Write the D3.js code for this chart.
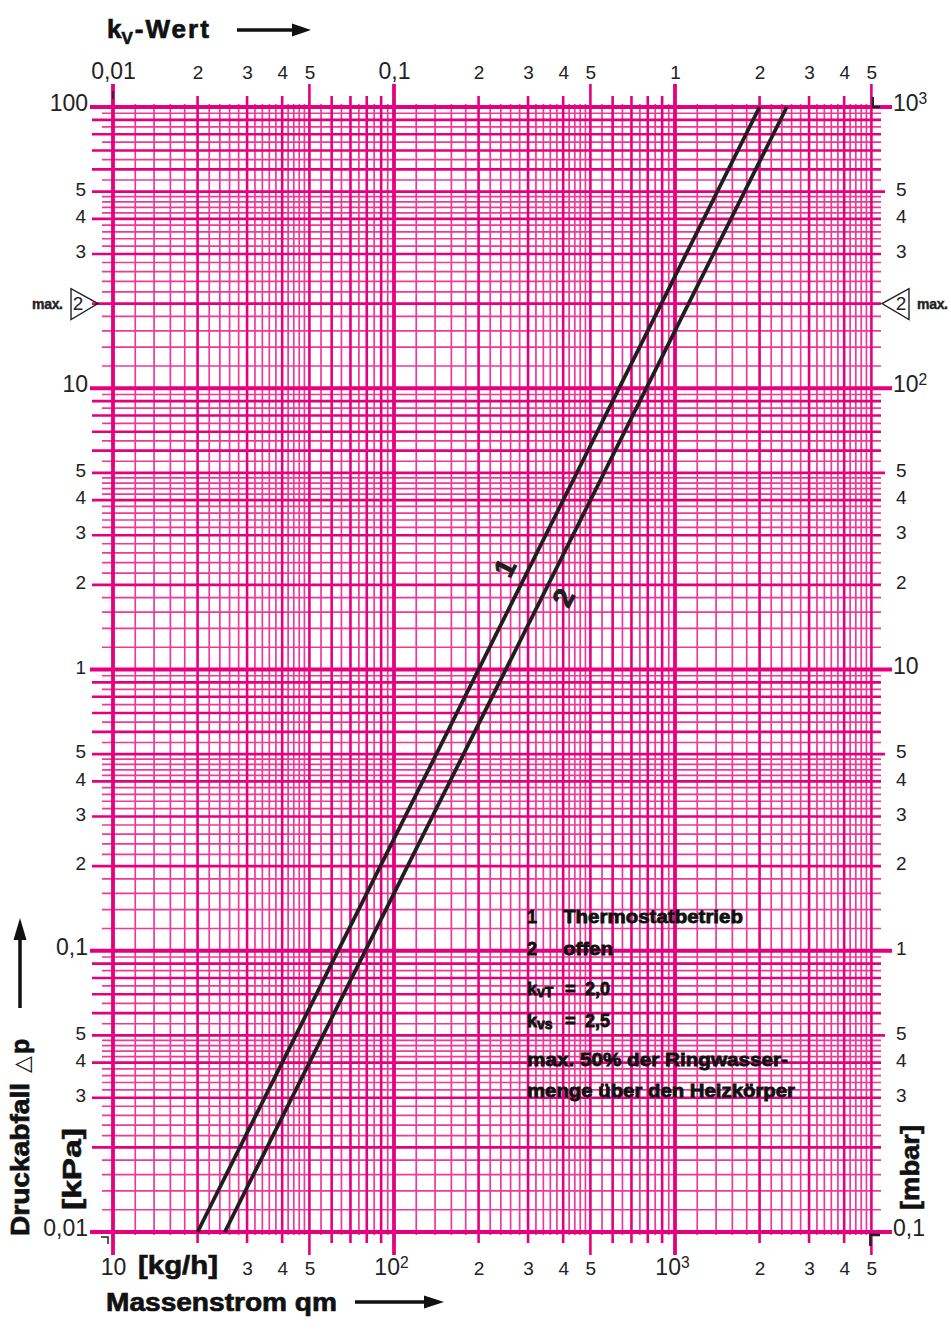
<!DOCTYPE html>
<html><head><meta charset="utf-8">
<script src="https://cdn.jsdelivr.net/npm/d3@7"></script>
<style>body{margin:0;background:#fff}svg{display:block}</style>
</head><body>
<svg id="c" width="951" height="1335"></svg>
<script>
// ---------- data ----------
const qmDomain = [10, 5000];          // Massenstrom qm [kg/h]
const kvDomain = [0.01, 5];           // kv-Wert (top scale)
const kpaDomain = [0.01, 100];        // Druckabfall [kPa]
const mbarDomain = [0.1, 1000];       // Druckabfall [mbar]

const kvTickValues = [0.01,0.02,0.03,0.04,0.05,0.1,0.2,0.3,0.4,0.5,1,2,3,4,5];
const kvTickLabels = ["0,01","2","3","4","5","0,1","2","3","4","5","1","2","3","4","5"];
const qmTickValues = [10,30,40,50,100,200,300,400,500,1000,2000,3000,4000,5000];
const qmTickLabels = ["10","3","4","5","10²","2","3","4","5","10³","2","3","4","5"];
const kpaTickValues = [100,50,40,30,10,5,4,3,2,1,0.5,0.4,0.3,0.2,0.1,0.05,0.04,0.03,0.01];
const kpaTickLabels = ["100","5","4","3","10","5","4","3","2","1","5","4","3","2","0,1","5","4","3","0,01"];
const mbarTickValues = [1000,500,400,300,100,50,40,30,20,10,5,4,3,2,1,0.5,0.4,0.3,0.1];
const mbarTickLabels = ["10³","5","4","3","10²","5","4","3","2","10","5","4","3","2","1","5","4","3","0,1"];
const maxMarkKpa = 20;

// curve 1: Thermostatbetrieb (kvT = 2,0); curve 2: offen (kvs = 2,5)
const curve1Qm = [20, 2000];
const curve1Dp = [0.01, 100];
const curve2Qm = [25, 2500];
const curve2Dp = [0.01, 100];
const curveLabelQm = [248, 400];
const curveLabelDp = [2.3, 1.8];
const curveLabelText = ["1", "2"];

const legendNums = ["1", "2"];
const legendTexts = ["Thermostatbetrieb", "offen"];
const kvTValue = "2,0";
const kvsValue = "2,5";
const noteLines = ["max. 50% der Ringwasser-", "menge über den Heizkörper"];

// ---------- setup ----------
const MAG = "#e5007d", MAG_LIGHT = "#ec3a96";
const NUM_FONT = "'Liberation Sans Narrow','Liberation Sans',Arial,sans-serif";
const BOLD_FONT = "'Liberation Sans',Arial,sans-serif";
const svg = d3.select("#c");

const x = d3.scaleLog().domain(qmDomain).range([113, 871.4]);
const xKv = d3.scaleLog().domain(kvDomain).range(x.range());
const y = d3.scaleLog().domain(kpaDomain).range([1232, 107]);
const yMbar = d3.scaleLog().domain(mbarDomain).range(y.range());

const mantissas = [1,1.2,1.4,1.6,1.8,2,2.2,2.4,2.6,2.8,3,3.2,3.4,3.6,3.8,4,4.2,4.4,4.6,4.8,5,5.5,6,6.5,7,7.5,8,8.5,9,9.5];
function gridVals(domain){
  const out=[];
  for(let e=Math.floor(Math.log10(domain[0])); e<=Math.ceil(Math.log10(domain[1])); e++){
    mantissas.forEach(m=>{
      const v = +(m*Math.pow(10,e)).toPrecision(6);
      if(v>=domain[0]*0.9999 && v<=domain[1]*1.0001) out.push({v, m, kind: m===1?"dec":(Number.isInteger(m)?"int":"min")});
    });
  }
  return out;
}
const gx = gridVals(qmDomain), gy = gridVals(kpaDomain);
const style = {min:{w:1.7,c:MAG_LIGHT}, int:{w:2.6,c:MAG}, dec:{w:3.8,c:MAG}};
const yTop = y(100), yBot = y(0.01), xL = x(10), xR = x(5000);

const grid = svg.append("g");
["min","int","dec"].forEach(kind=>{
  grid.selectAll(null).data(gy.filter(d=>d.kind===kind)).enter().append("line")
    .attr("x1", d=> d.kind==="dec"?90:(d.kind==="int"?92:102))
    .attr("x2", d=> d.kind==="dec"?892:(d.m===5?885:881))
    .attr("y1", d=>y(d.v)).attr("y2", d=>y(d.v))
    .attr("stroke", style[kind].c).attr("stroke-width", style[kind].w);
  grid.selectAll(null).data(gx.filter(d=>d.kind===kind)).enter().append("line")
    .attr("x1", d=>x(d.v)).attr("x2", d=>x(d.v))
    .attr("y1", d=> (d.kind==="dec"||d.m===5)?84:(d.kind==="int"?96:104))
    .attr("y2", d=> (d.kind==="dec"||d.m===5)?1255:(d.kind==="int"?1243:1235))
    .attr("stroke", style[kind].c).attr("stroke-width", style[kind].w);
});

// registration marks
const reg = svg.append("g").attr("stroke","#222").attr("fill","none");
reg.append("path").attr("d",`M${xL},91V99`).attr("stroke-width",1.5);
reg.append("path").attr("d",`M${xR+1.5},97V${yTop}H880`).attr("stroke-width",2.2);
reg.append("path").attr("d",`M101,${yBot+5}H108V${yBot+12}`).attr("stroke-width",1.5);
reg.append("path").attr("d",`M${xR-1},${yBot+14}V${yBot+3}H880`).attr("stroke-width",2.6);

// ---------- curves ----------
const line = d3.line().x(d=>x(d[0])).y(d=>y(d[1]));
[[curve1Qm,curve1Dp],[curve2Qm,curve2Dp]].forEach(([q,p])=>{
  svg.append("path").datum(q.map((v,i)=>[v,p[i]])).attr("d",line)
    .attr("fill","none").attr("stroke","#1f1f1f").attr("stroke-width",3.8);
});
curveLabelText.forEach((t,i)=>{
  svg.append("text").attr("transform",`translate(${x(curveLabelQm[i])},${y(curveLabelDp[i])}) rotate(-63)`)
    .attr("text-anchor","middle").attr("dy","0.35em")
    .attr("font-family",BOLD_FONT).attr("font-weight","bold").attr("font-size",28)
    .attr("stroke","#1f1f1f").attr("stroke-width",1)
    .attr("fill","#1f1f1f").text(t);
});

// ---------- axes labels ----------
function setLabel(sel, labels, bigSize, smallSize){
  sel.each(function(d,i){
    const t = d3.select(this), s = labels[i];
    t.text(null);
    const big = s.length>1;
    const m = s.match(/^(10)([²³])$/);
    if(m){
      t.append("tspan").text(m[1]).attr("font-size",bigSize);
      t.append("tspan").text(m[2]==="²"?"2":"3").attr("font-size",bigSize*0.68).attr("dy",-bigSize*0.32);
    } else {
      t.append("tspan").text(s).attr("font-size", big?bigSize:smallSize);
    }
  });
}
function styleAxis(g){
  g.select(".domain").remove();
  g.selectAll(".tick line").remove();
  g.attr("font-family",NUM_FONT).attr("fill","#222");
  g.selectAll("text").attr("fill","#222");
}
const axTop = svg.append("g").attr("transform","translate(0,79)")
  .call(d3.axisTop(xKv).tickValues(kvTickValues).tickSize(0).tickPadding(0));
styleAxis(axTop);
axTop.selectAll("text").attr("y",0).attr("dy",0);
setLabel(axTop.selectAll("text"), kvTickLabels, 23, 19);

const axBot = svg.append("g").attr("transform","translate(0,1275)")
  .call(d3.axisBottom(x).tickValues(qmTickValues).tickSize(0).tickPadding(0));
styleAxis(axBot);
axBot.selectAll("text").attr("y",0).attr("dy",0).attr("dx",(d,i)=>qmTickLabels[i].length===3?-3:0);
setLabel(axBot.selectAll("text"), qmTickLabels, 23, 19);

const axLeft = svg.append("g").attr("transform","translate(88,0)")
  .call(d3.axisLeft(y).tickValues(kpaTickValues).tickSize(0).tickPadding(0));
styleAxis(axLeft);
axLeft.selectAll("text").attr("x",(d,i)=>kpaTickLabels[i].length>1?0:-2).attr("dy","0.36em");
setLabel(axLeft.selectAll("text"), kpaTickLabels, 23, 19);

const axRight = svg.append("g").attr("transform","translate(893,0)")
  .call(d3.axisRight(yMbar).tickValues(mbarTickValues).tickSize(0).tickPadding(0));
styleAxis(axRight);
axRight.selectAll("text").attr("x",(d,i)=>mbarTickLabels[i].length>1?0:3).attr("dy","0.36em");
setLabel(axRight.selectAll("text"), mbarTickLabels, 23, 19);

// max. 2 markers
const ym = y(maxMarkKpa);
const mk = svg.append("g").attr("fill","#222");
mk.append("path").attr("d",`M71,${ym-15}V${ym+16}L98,${ym}Z`).attr("fill","none").attr("stroke","#222").attr("stroke-width",1.4);
mk.append("text").attr("x",78).attr("y",ym).attr("dy","0.36em").attr("text-anchor","middle").attr("font-family",NUM_FONT).attr("font-size",19).text("2");
mk.append("text").attr("x",32).attr("y",ym+5).attr("font-family",BOLD_FONT).attr("font-weight","bold").attr("font-size",14).attr("stroke","#222").attr("stroke-width",0.4).attr("textLength",31).text("max.");
mk.append("path").attr("d",`M909,${ym-15}V${ym+16}L882,${ym}Z`).attr("fill","none").attr("stroke","#222").attr("stroke-width",1.4);
mk.append("text").attr("x",901).attr("y",ym).attr("dy","0.36em").attr("text-anchor","middle").attr("font-family",NUM_FONT).attr("font-size",19).text("2");
mk.append("text").attr("x",917).attr("y",ym+5).attr("font-family",BOLD_FONT).attr("font-weight","bold").attr("font-size",14).attr("stroke","#222").attr("stroke-width",0.4).attr("textLength",31).text("max.");

// ---------- titles ----------
function arrow(g, x1, y1, x2, y2, head){
  const ang = Math.atan2(y2-y1, x2-x1);
  const bx = x2 - head*Math.cos(ang), by = y2 - head*Math.sin(ang);
  g.append("line").attr("x1",x1).attr("y1",y1).attr("x2",bx).attr("y2",by).attr("stroke","#111").attr("stroke-width",3.5);
  const w = 6.5, nx = -Math.sin(ang)*w, ny = Math.cos(ang)*w;
  g.append("path").attr("d",`M${x2},${y2}L${bx+nx},${by+ny}L${bx-nx},${by-ny}Z`).attr("fill","#111");
}
const ttl = svg.append("g").attr("fill","#111").attr("font-family",BOLD_FONT).attr("font-weight","bold");
const kvT = ttl.append("text").attr("x",107).attr("y",38).attr("font-size",26).attr("stroke","#111").attr("stroke-width",0.7);
kvT.append("tspan").text("k");
kvT.append("tspan").text("V").attr("font-size",17).attr("dy",6);
kvT.append("tspan").text("-Wert").attr("dy",-6).attr("dx",2).attr("textLength",74);
arrow(ttl, 237, 30, 311, 30, 19);
ttl.append("text").attr("x",106).attr("y",1311).attr("font-size",25).attr("stroke","#111").attr("stroke-width",0.7)
  .attr("textLength",231).attr("lengthAdjust","spacingAndGlyphs").text("Massenstrom qm");
arrow(ttl, 355, 1302, 444, 1302, 20);
ttl.append("text").attr("x",138).attr("y",1274).attr("font-size",25).attr("stroke","#111").attr("stroke-width",0.6)
  .attr("textLength",80).attr("lengthAdjust","spacingAndGlyphs").text("[kg/h]");
const dT = ttl.append("text").attr("transform","translate(29,1236) rotate(-90)").attr("font-size",25).attr("stroke","#111").attr("stroke-width",0.7);
dT.append("tspan").text("Druckabfall").attr("textLength",153).attr("lengthAdjust","spacingAndGlyphs");
dT.append("tspan").text("△").attr("dx",10).attr("font-weight","normal").attr("stroke","none").attr("font-family","'DejaVu Sans',sans-serif").attr("font-size",22);
dT.append("tspan").text("p").attr("dx",2);
arrow(ttl, 20, 1008, 20, 918, 22);
ttl.append("text").attr("transform","translate(81,1210) rotate(-90)").attr("font-size",25).attr("stroke","#111").attr("stroke-width",0.6)
  .attr("textLength",82).attr("lengthAdjust","spacingAndGlyphs").text("[kPa]");
ttl.append("text").attr("transform","translate(919,1210) rotate(-90)").attr("font-size",25).attr("stroke","#111").attr("stroke-width",0.6)
  .attr("textLength",85).attr("lengthAdjust","spacingAndGlyphs").text("[mbar]");

// ---------- legend ----------
const lg = svg.append("g").attr("fill","#111").attr("font-family",BOLD_FONT).attr("font-weight","bold").attr("font-size",18)
  .attr("stroke","#111").attr("stroke-width",0.8);
const rowsY = [923, 955];
legendNums.forEach((n,i)=>{
  lg.append("text").attr("x",527).attr("y",rowsY[i]).text(n);
  lg.append("text").attr("x",563).attr("y",rowsY[i]).attr("textLength", i===0?180:50).attr("lengthAdjust","spacingAndGlyphs").text(legendTexts[i]);
});
[["vT",kvTValue,995],["vs",kvsValue,1027]].forEach(([sub,val,yy])=>{
  const t = lg.append("text").attr("x",527).attr("y",yy);
  t.append("tspan").text("k");
  t.append("tspan").text(sub).attr("font-size",14).attr("dy",2);
  t.append("tspan").text("=").attr("x",565).attr("dy",-2);
  t.append("tspan").text(val).attr("x",585);
});
noteLines.forEach((s,i)=>{
  lg.append("text").attr("x",527).attr("y",[1066,1097][i]).attr("textLength",[261,268][i]).attr("lengthAdjust","spacingAndGlyphs").text(s);
});
</script>
</body></html>
